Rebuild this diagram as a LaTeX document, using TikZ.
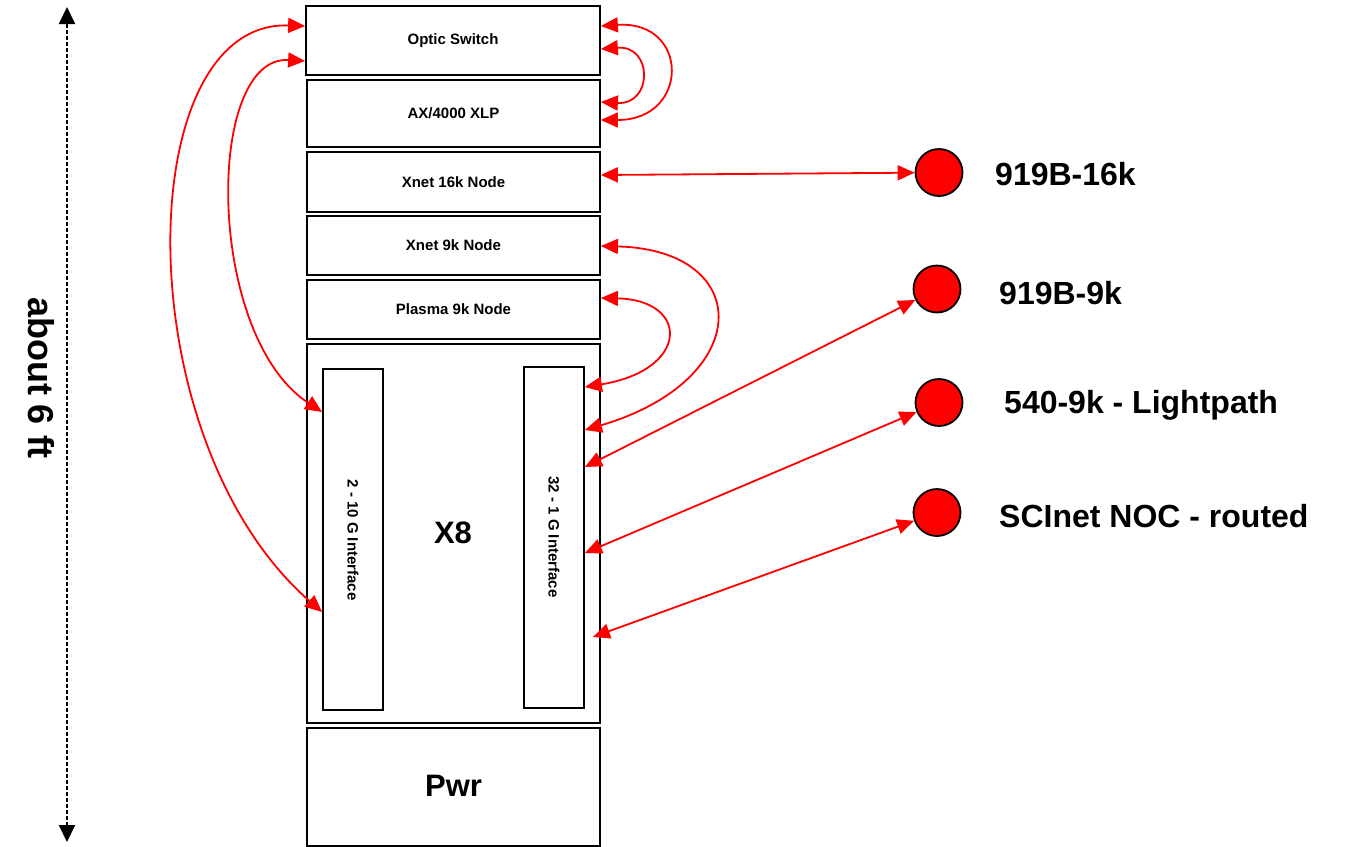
\documentclass[tikz,border=0pt]{standalone}
\usepackage{fontspec}
\setmainfont{Liberation Sans}
\usetikzlibrary{arrows.meta}
\tikzset{
  rack/.style={draw=black, line width=1.8pt, minimum width=293pt, inner sep=0pt,
    font=\bfseries\fontsize{15}{18}\selectfont},
  iface/.style={draw=black, line width=1.8pt, minimum width=60pt, minimum height=341pt, inner sep=0pt},
  vlab/.style={rotate=-90, font=\bfseries\fontsize{15}{18}\selectfont},
  bigtext/.style={font=\bfseries\fontsize{31}{36}\selectfont},
  site/.style={circle, draw=black, fill=red, line width=1.8pt, minimum size=47pt, inner sep=0pt},
  sitelab/.style={anchor=west, inner sep=0pt, font=\bfseries\fontsize{32}{38}\selectfont},
  link/.style={draw=red, line width=1.8pt, {Triangle[length=17pt,width=15pt]}-{Triangle[length=17pt,width=15pt]}},
  measure/.style={draw=black, line width=2pt, dash pattern=on 4pt off 2pt,
    {Triangle[length=17pt,width=16pt]}-{Triangle[length=17pt,width=16pt]}}
}
\begin{document}
\begin{tikzpicture}[x=1pt,y=-1pt]
\useasboundingbox (0,0) rectangle (1351,846);
\fill[white] (0,0) rectangle (1351,846);
% rack
\node[rack, minimum width=294pt, minimum height=69pt] (os) at (453,40.5) {Optic Switch};
\node[rack, minimum height=67pt] (ax) at (453.5,113.5) {AX/4000 XLP};
\node[rack, minimum height=60pt] (x16) at (453.5,182) {Xnet 16k Node};
\node[rack, minimum height=59pt] (x9) at (453.5,245.5) {Xnet 9k Node};
\node[rack, minimum height=59pt] (pl) at (453.5,309.5) {Plasma 9k Node};
\node[rack, minimum height=379pt] (x8) at (453.5,533.5) {};
\node[bigtext] (x8l) at (453,533) {X8};
\node[iface] (i2) at (353,539.5) {};
\node[vlab] (i2l) at (353,540) {2 - 10 G Interface};
\node[iface] (i32) at (554,537.5) {};
\node[vlab] (i32l) at (554,537) {32 - 1 G Interface};
\node[rack, minimum height=118pt] (pwr) at (453.5,787) {};
\node[bigtext] (pwrl) at (453.5,786) {Pwr};
% height marker
\coordinate (htop) at (67,7);
\coordinate (hbot) at (67,842);
\draw[measure] (htop) -- (hbot);
\node[rotate=-90, font=\bfseries\fontsize{36}{40}\selectfont] (hlab) at (41,378) {about 6 ft};
% sites
\node[site] (c16) at (939,172.5) {};
\node[site] (c9) at (937,289) {};
\node[site] (c540) at (939,402.5) {};
\node[site] (csc) at (937,512.5) {};
\node[sitelab] (l16) at (995,174) {919B-16k};
\node[sitelab] (l9) at (999,293) {919B-9k};
\node[sitelab] (l540) at (1004,405) {540-9k - Lightpath};
\node[sitelab] (lsc) at (999,516) {SCInet NOC - routed};
% left loops
\draw[link] ([yshift=14.5pt]os.west) .. controls (130,20) and (125,440) .. ([yshift=-72.5pt]i2.west);
\draw[link] ([yshift=-20.5pt]os.west) .. controls (205,55) and (205,335) .. ([yshift=127.5pt]i2.west);
% right loops
\draw[link] ([yshift=14.5pt]os.east) .. controls (690,20) and (690,120) .. ([yshift=-6.5pt]ax.east);
\draw[link] ([yshift=-8.5pt]os.east) .. controls (653,45) and (653,105) .. ([yshift=11.5pt]ax.east);
\draw[link] ([yshift=-0.5pt]x9.east) .. controls (755,250) and (755,380) .. ([yshift=107.5pt]i32.east);
\draw[link] ([yshift=11.5pt]pl.east) .. controls (690,300) and (690,370) .. ([yshift=150.5pt]i32.east);
% links to sites
\draw[link] ([yshift=7pt]x16.east) -- (c16);
\draw[link] ([yshift=70.5pt]i32.east) -- (c9);
\draw[link] ([yshift=-15.5pt]i32.east) -- (c540);
\draw[link] ([xshift=8pt,yshift=-99.5pt]i32.east) -- (csc);
\end{tikzpicture}
\end{document}
